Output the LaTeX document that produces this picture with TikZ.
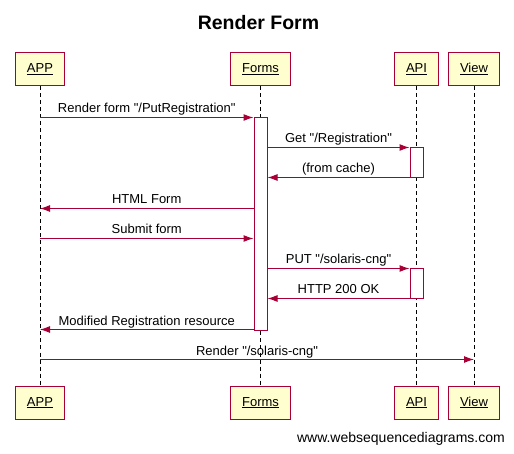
\documentclass[tikz,border=0pt]{standalone}
\usepackage{fontspec}
\setmainfont{Liberation Sans}[Ligatures=TeXOff]
\usetikzlibrary{arrows.meta}
\definecolor{wsdred}{RGB}{168,0,54}
\definecolor{wsdyellow}{RGB}{254,254,206}
\tikzset{
  actor/.style={draw=wsdred,fill=wsdyellow,line width=1pt,minimum height=33pt,inner xsep=11.5pt,text height=9.5pt,text depth=2.5pt,font=\fontsize{13}{15}\selectfont},
  act/.style={draw=wsdred,fill=white,line width=1pt,minimum width=13pt,anchor=north,inner sep=0pt},
  life/.style={dash pattern=on 4pt off 3pt,line width=1pt},
  msg/.style={draw=wsdred,line width=1pt,-{Latex[length=10pt,width=7pt]}},
  lbl/.style={font=\fontsize{13}{15}\selectfont,anchor=base,yshift=4.5pt,inner sep=0pt},
}
\begin{document}
\begin{tikzpicture}[x=1pt,y=-1pt]
    \useasboundingbox (0,0) rectangle (514,454);
    %标题
    \node[font=\bfseries\fontsize{19.5}{22}\selectfont] (title) at (258.5,23) {Render Form};
    %参与者
    \node[actor] (app) at (40,69.5) {\underline{APP}};
    \node[actor] (forms) at (260.5,69.5) {\underline{Forms}};
    \node[actor] (api) at (416.5,69.5) {\underline{API}};
    \node[actor] (view) at (474,69.5) {\underline{View}};
    \node[actor] (app2) at (40,402.5) {\underline{APP}};
    \node[actor] (forms2) at (260.5,402.5) {\underline{Forms}};
    \node[actor] (api2) at (416.5,402.5) {\underline{API}};
    \node[actor] (view2) at (474,402.5) {\underline{View}};
    %生命线
    \draw[life] (app) -- (app2);
    \draw[life] (forms) -- (forms2);
    \draw[life] (api) -- (api2);
    \draw[life] (view) -- (view2);
    %每条消息的高度
    \coordinate (r1) at (0,117.5);
    \coordinate (r2) at (0,147.5);
    \coordinate (r3) at (0,177.5);
    \coordinate (r4) at (0,208.5);
    \coordinate (r5) at (0,238.5);
    \coordinate (r6) at (0,268.5);
    \coordinate (r7) at (0,298.5);
    \coordinate (r8) at (0,329.5);
    \coordinate (r9) at (0,359.5);
    %激活框
    \node[act,minimum height=212pt] (fa) at (forms.south |- r1) {};
    \node[act,minimum height=30pt] (ga) at (api.south |- r2) {};
    \node[act,minimum height=30pt] (pa) at (api.south |- r6) {};
    %消息
    \draw[msg] (app.south |- r1) -- node[lbl]{Render form "/PutRegistration"} (fa.west |- r1);
    \draw[msg] (fa.east |- r2) -- node[lbl]{Get "/Registration"} (ga.west |- r2);
    \draw[msg] (ga.west |- r3) -- node[lbl]{(from cache)} (fa.east |- r3);
    \draw[msg] (fa.west |- r4) -- node[lbl]{HTML Form} (app.south |- r4);
    \draw[msg] (app.south |- r5) -- node[lbl]{Submit form} (fa.west |- r5);
    \draw[msg] (fa.east |- r6) -- node[lbl]{PUT "/solaris-cng"} (pa.west |- r6);
    \draw[msg] (pa.west |- r7) -- node[lbl]{HTTP 200 OK} (fa.east |- r7);
    \draw[msg] (fa.west |- r8) -- node[lbl]{Modified Registration resource} (app.south |- r8);
    \draw[msg] (app.south |- r9) -- node[lbl]{Render "/solaris-cng"} (view.south |- r9);
    %网址
    \node[anchor=east,inner sep=0pt,font=\fontsize{14}{16}\selectfont] (site) at (505,439) {www.websequencediagrams.com};
\end{tikzpicture}
\end{document}
